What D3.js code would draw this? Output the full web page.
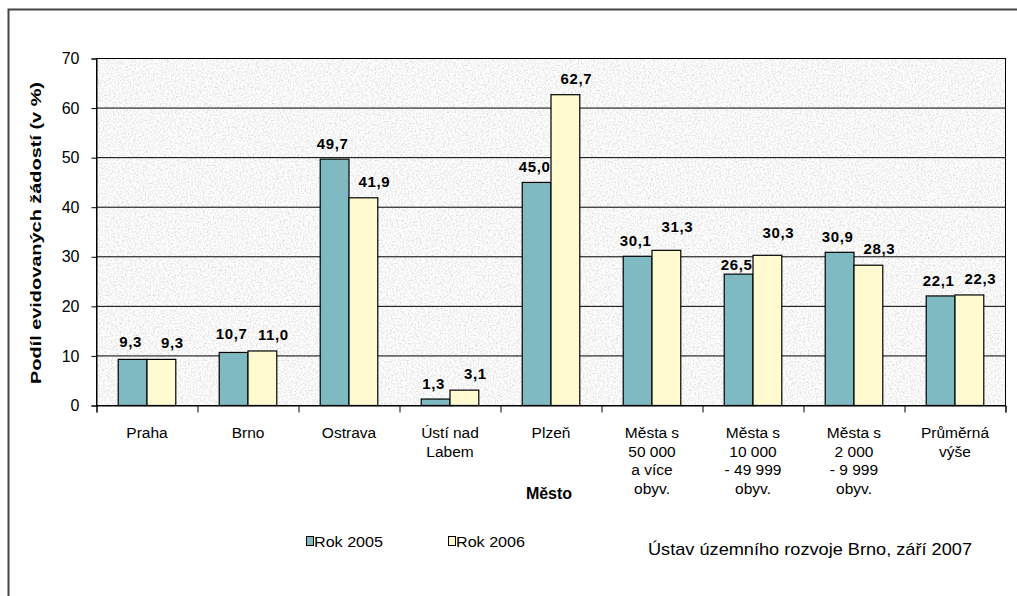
<!DOCTYPE html>
<html>
<head>
<meta charset="utf-8">
<script src="https://cdn.jsdelivr.net/npm/d3@7"></script>
<style>
  body { margin: 0; background: #fff; }
  svg { display: block; font-family: "Liberation Sans", Arial, sans-serif; }
</style>
</head>
<body>
<svg id="chart" width="1017" height="596"></svg>
<script>
// Categories (multi-line labels split by "\n")
const categories = [
  "Praha", "Brno", "Ostrava", "Ústí nad\nLabem", "Plzeň",
  "Města s\n50 000\na více\nobyv.", "Města s\n10 000\n- 49 999\nobyv.",
  "Města s\n2 000\n- 9 999\nobyv.", "Průměrná\nvýše"
];
const seriesNames = ["Rok 2005", "Rok 2006"];
const values2005 = [9.3, 10.7, 49.7, 1.3, 45.0, 30.1, 26.5, 30.9, 22.1];
const values2006 = [9.3, 11.0, 41.9, 3.1, 62.7, 31.3, 30.3, 28.3, 22.3];
const yTicks = [0, 10, 20, 30, 40, 50, 60, 70];

// Styling / layout
const colors = ["#7fbac2", "#fffad0"];
const labelShift = [{ dx: -2, dy: 10 }, { dx: 11, dy: 11 }];   // per-series data label offset
const labelRaise = { "5-1": 7, "6-1": 6, "6-0": -6, "1-0": 3, "0-0": 2 }; // extra lift for crowded labels

const svg = d3.select("#chart");

// Outer frame
svg.append("rect")
  .attr("x", 8.5).attr("y", 9.5).attr("width", 1030).attr("height", 620)
  .attr("fill", "none").attr("stroke", "#444").attr("stroke-width", 2);

const plot = { left: 96.5, right: 1005.5, top: 58.5, bottom: 405.5 };

const x = d3.scaleBand().domain(d3.range(categories.length))
  .range([plot.left, plot.right]).paddingInner(0.43).paddingOuter(0.215);
const xCat = d3.scaleBand().domain(d3.range(categories.length))
  .range([plot.left, plot.right]);
const xSub = d3.scaleBand().domain([0, 1]).range([0, x.bandwidth()]);
const y = d3.scaleLinear().domain([0, 70]).range([plot.bottom, plot.top]);

// Granite-like background texture
const defs = svg.append("defs");
const f = defs.append("filter").attr("id", "granite")
  .attr("x", 0).attr("y", 0).attr("width", 1).attr("height", 1);
f.append("feTurbulence").attr("type", "fractalNoise")
  .attr("baseFrequency", 0.6).attr("numOctaves", 3).attr("seed", 4).attr("result", "n");
f.append("feColorMatrix").attr("in", "n").attr("type", "matrix")
  .attr("values", "0.6 0 0 0 0.63  0.6 0 0 0 0.63  0.6 0 0 0 0.63  0 0 0 0 1");

svg.append("rect")
  .attr("x", plot.left).attr("y", plot.top)
  .attr("width", plot.right - plot.left).attr("height", plot.bottom - plot.top)
  .attr("fill", "#ececec").attr("filter", "url(#granite)");

// Gridlines
svg.append("g").selectAll("line").data(yTicks.filter(d => d > 0)).join("line")
  .attr("x1", plot.left).attr("x2", plot.right)
  .attr("y1", d => y(d)).attr("y2", d => y(d))
  .attr("stroke", "#000").attr("stroke-width", 1);

// Plot border
svg.append("rect")
  .attr("x", plot.left).attr("y", plot.top)
  .attr("width", plot.right - plot.left).attr("height", plot.bottom - plot.top)
  .attr("fill", "none").attr("stroke", "#000");

// Bars
const groups = svg.append("g").selectAll("g").data(categories.map((c, i) => i)).join("g")
  .attr("transform", i => `translate(${x(i)},0)`);
groups.selectAll("rect").data(i => [values2005[i], values2006[i]]).join("rect")
  .attr("x", (d, j) => xSub(j)).attr("width", xSub.bandwidth())
  .attr("y", d => y(d)).attr("height", d => y(0) - y(d))
  .attr("fill", (d, j) => colors[j]).attr("stroke", "#000").attr("stroke-width", 1.2);

// Value labels
groups.selectAll("text")
  .data(i => [values2005[i], values2006[i]].map((v, j) => ({ v, j, i })))
  .join("text")
  .attr("x", d => xSub(d.j) + xSub.bandwidth() / 2 + labelShift[d.j].dx)
  .attr("y", d => y(d.v) - labelShift[d.j].dy - (labelRaise[`${d.i}-${d.j}`] || 0))
  .attr("text-anchor", "middle").attr("font-size", 15).attr("font-weight", "bold")
  .attr("letter-spacing", 0.6)
  .text(d => d.v.toFixed(1).replace(".", ","));

// Y axis
const yAxis = svg.append("g").attr("transform", `translate(${plot.left},0)`)
  .call(d3.axisLeft(y).tickValues(yTicks).tickSize(5).tickPadding(12));
yAxis.select(".domain").attr("stroke", "#000");
yAxis.selectAll("text").attr("font-size", 16).attr("fill", "#000")
  .attr("font-family", "Liberation Sans, Arial, sans-serif");
yAxis.selectAll("line").attr("stroke", "#000");

// X axis
const xAxis = svg.append("g").attr("transform", `translate(0,${plot.bottom})`)
  .call(d3.axisBottom(d3.scaleLinear().domain([0, categories.length]).range([plot.left, plot.right]))
    .tickValues(d3.range(categories.length + 1)).tickSize(7).tickFormat(""));
xAxis.select(".domain").attr("stroke", "#000");
xAxis.selectAll("line").attr("stroke", "#000");

// Category labels
const catLabels = svg.append("g").selectAll("text").data(categories).join("text")
  .attr("x", (d, i) => xCat(i) + xCat.bandwidth() / 2)
  .attr("y", 438)
  .attr("text-anchor", "middle").attr("font-size", 15.5).attr("fill", "#000");
catLabels.each(function(d) {
  const t = d3.select(this);
  d.split("\n").forEach((line, k) => {
    t.append("tspan").attr("x", t.attr("x")).attr("dy", k === 0 ? 0 : 18.7).text(line);
  });
});

// Axis titles
svg.append("text")
  .attr("transform", "translate(41,233) rotate(-90)")
  .attr("text-anchor", "middle").attr("font-size", 15.5).attr("font-weight", "bold")
  .attr("textLength", 302).attr("lengthAdjust", "spacingAndGlyphs")
  .text("Podíl evidovaných žádostí (v %)");
svg.append("text")
  .attr("x", 549).attr("y", 499)
  .attr("text-anchor", "middle").attr("font-size", 16).attr("font-weight", "bold")
  .text("Město");

// Legend
const legendX = [306, 448];
const legend = svg.append("g").selectAll("g").data(seriesNames).join("g")
  .attr("transform", (d, i) => `translate(${legendX[i]},536)`);
legend.append("rect").attr("x", 0.5).attr("y", 0.5).attr("width", 7).attr("height", 9)
  .attr("fill", (d, i) => colors[i]).attr("stroke", "#000");
legend.append("text").attr("x", 8).attr("y", 10.5).attr("font-size", 14.5)
  .attr("textLength", 69).attr("lengthAdjust", "spacingAndGlyphs")
  .text(d => d);

// Source note
svg.append("text")
  .attr("x", 648).attr("y", 555).attr("font-size", 17)
  .attr("textLength", 324).attr("lengthAdjust", "spacingAndGlyphs")
  .text("Ústav územního rozvoje Brno, září 2007");
</script>
</body>
</html>
